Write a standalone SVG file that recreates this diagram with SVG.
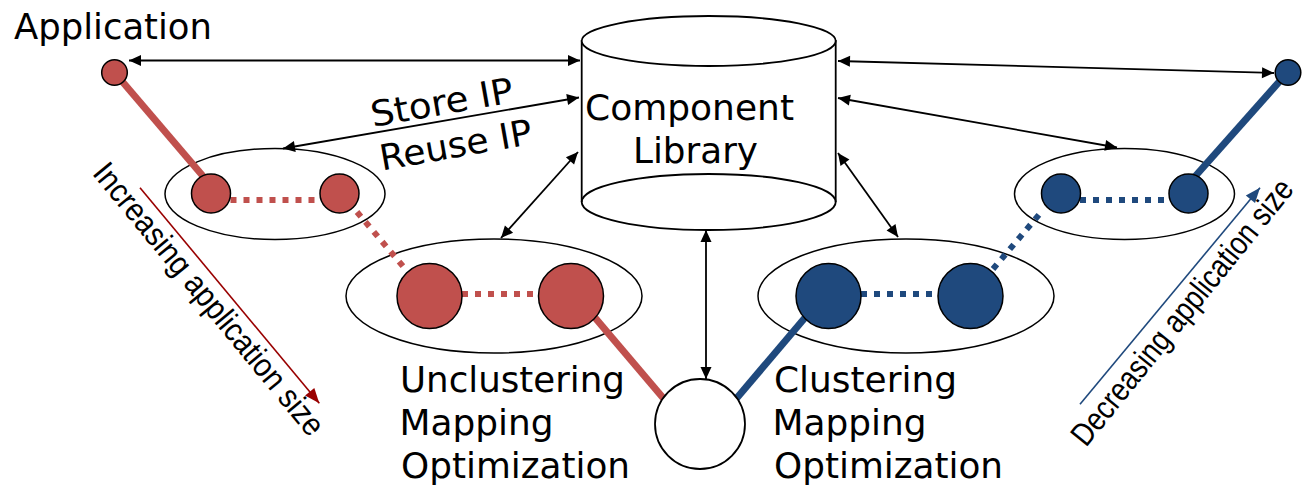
<svg xmlns="http://www.w3.org/2000/svg" width="1308" height="485" viewBox="0 0 1308 485">
<defs>
<marker id="ah" markerUnits="userSpaceOnUse" markerWidth="13" markerHeight="11" refX="12" refY="5.5" orient="auto-start-reverse" overflow="visible"><path d="M0,0 L12,5.5 L0,11 z" fill="#000"/></marker>
<marker id="ahRed" markerUnits="userSpaceOnUse" markerWidth="15" markerHeight="12" refX="15" refY="6" orient="auto" overflow="visible"><path d="M0,0 L15,6 L0,12 z" fill="#990000"/></marker>
<marker id="ahBlue" markerUnits="userSpaceOnUse" markerWidth="15" markerHeight="12" refX="15" refY="6" orient="auto" overflow="visible"><path d="M0,0 L15,6 L0,12 z" fill="#1F497D"/></marker>
</defs>
<style>
.lbl{font-family:"DejaVu Sans",Verdana,sans-serif;font-size:35.5px;fill:#000}
.rot{font-family:"Liberation Sans",Arial,sans-serif;font-size:32.5px;fill:#000}
.conn{stroke:#000;stroke-width:1.8;fill:none;marker-start:url(#ah);marker-end:url(#ah)}
.red{fill:#C0504D;stroke:#000;stroke-width:1.5}
.blue{fill:#1F497D;stroke:#000;stroke-width:1.5}
.grp{fill:none;stroke:#000;stroke-width:1.5}
.rs{stroke:#C0504D;stroke-width:7;fill:none}
.rd{stroke:#C0504D;stroke-width:6;stroke-dasharray:6 7;fill:none}
.bs{stroke:#1F497D;stroke-width:7;fill:none}
.bd{stroke:#1F497D;stroke-width:6;stroke-dasharray:6 7;fill:none}
</style>
<rect width="1308" height="485" fill="#fff"/>

<g id="library">
<path d="M581.7,40 L581.7,202 L835.7,202 L835.7,40 Z" fill="#fff"/>
<ellipse cx="708.7" cy="202" rx="127" ry="28" fill="#fff" stroke="#000" stroke-width="1.8"/>
<line x1="581.7" y1="40" x2="581.7" y2="202" stroke="#000" stroke-width="1.8"/>
<line x1="835.7" y1="40" x2="835.7" y2="202" stroke="#000" stroke-width="1.8"/>
<ellipse cx="708.7" cy="41" rx="127" ry="25" fill="#fff" stroke="#000" stroke-width="1.8"/>
<text class="lbl" x="585" y="120" textLength="209" lengthAdjust="spacingAndGlyphs">Component</text>
<text class="lbl" x="633" y="163.3" textLength="125" lengthAdjust="spacingAndGlyphs">Library</text>
</g>

<g id="groups">
<ellipse cx="275" cy="194" rx="110" ry="45.5" class="grp"/>
<ellipse cx="494" cy="296" rx="148" ry="57" class="grp"/>
<ellipse cx="906" cy="296" rx="148" ry="57" class="grp"/>
<ellipse cx="1124.5" cy="194" rx="110" ry="45.5" class="grp"/>
</g>

<g id="connectors">
<line x1="115" y1="73" x2="208" y2="182" class="rs"/>
<line x1="230.5" y1="200" x2="320" y2="200" class="rd"/>
<line x1="357" y1="212" x2="407" y2="271" class="rd"/>
<line x1="462" y1="294" x2="538.5" y2="294" class="rd"/>
<line x1="580" y1="300" x2="664" y2="399" class="rs"/>
<line x1="820" y1="300" x2="736" y2="399" class="bs"/>
<line x1="861" y1="294" x2="938" y2="294" class="bd"/>
<line x1="993" y1="269" x2="1043" y2="210" class="bd"/>
<line x1="1080" y1="200" x2="1169.5" y2="200" class="bd"/>
<line x1="1191" y1="181" x2="1287" y2="73" class="bs"/>

<line x1="129" y1="60.5" x2="580" y2="60.5" class="conn"/>
<line x1="283" y1="148.5" x2="579" y2="97.5" class="conn"/>
<line x1="501" y1="238" x2="578" y2="152" class="conn"/>
<line x1="706" y1="230" x2="706" y2="379" class="conn"/>
<line x1="838" y1="153" x2="898" y2="237" class="conn"/>
<line x1="838" y1="98" x2="1117" y2="147.5" class="conn"/>
<line x1="838" y1="61" x2="1274" y2="73" class="conn"/>

<line x1="140" y1="187.7" x2="319.3" y2="403.3" stroke="#990000" stroke-width="1.6" marker-end="url(#ahRed)"/>
<line x1="1080" y1="404.3" x2="1260" y2="187.7" stroke="#1F497D" stroke-width="1.6" marker-end="url(#ahBlue)"/>
</g>

<g id="app-start">
<circle cx="114.5" cy="72.5" r="12.8" class="red"/>
<text class="lbl" x="14" y="39" textLength="198" lengthAdjust="spacingAndGlyphs">Application</text>
</g>
<g id="app-end">
<circle cx="1288" cy="72.5" r="12.8" class="blue"/>
</g>

<g id="red-small">
<circle cx="211" cy="193.5" r="19.5" class="red"/>
<circle cx="339.5" cy="193.5" r="19.5" class="red"/>
</g>
<g id="red-large">
<circle cx="429.5" cy="296" r="32.5" class="red"/>
<circle cx="571" cy="296" r="32.5" class="red"/>
</g>
<g id="blue-large">
<circle cx="828.5" cy="296" r="32.5" class="blue"/>
<circle cx="970.5" cy="296" r="32.5" class="blue"/>
</g>
<g id="blue-small">
<circle cx="1061" cy="193.5" r="19.5" class="blue"/>
<circle cx="1188.5" cy="193.5" r="19.5" class="blue"/>
</g>

<g id="mapping">
<circle cx="700" cy="424" r="45" fill="#fff" stroke="#000" stroke-width="1.8"/>
</g>

<g id="labels">
<text class="lbl" transform="translate(373,127) rotate(-10)" textLength="144" lengthAdjust="spacingAndGlyphs">Store IP</text>
<text class="lbl" transform="translate(382,170.5) rotate(-10)" textLength="154" lengthAdjust="spacingAndGlyphs">Reuse IP</text>
<text class="lbl" x="400" y="391.7" textLength="225" lengthAdjust="spacingAndGlyphs">Unclustering</text>
<text class="lbl" x="399.5" y="434.5" textLength="154" lengthAdjust="spacingAndGlyphs">Mapping</text>
<text class="lbl" x="401" y="477.7" textLength="229" lengthAdjust="spacingAndGlyphs">Optimization</text>
<text class="lbl" x="774" y="391.7" textLength="183" lengthAdjust="spacingAndGlyphs">Clustering</text>
<text class="lbl" x="772.5" y="434.5" textLength="154" lengthAdjust="spacingAndGlyphs">Mapping</text>
<text class="lbl" x="774" y="477.7" textLength="229" lengthAdjust="spacingAndGlyphs">Optimization</text>
<text class="rot" transform="translate(91.4,173.7) rotate(50.5) scale(0.9,1)">Increasing application size</text>
<text class="rot" transform="translate(1086,448) rotate(-51) scale(0.84,1)">Decreasing application size</text>
</g>
</svg>
